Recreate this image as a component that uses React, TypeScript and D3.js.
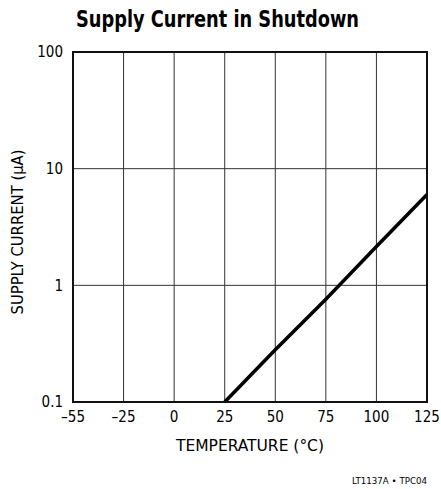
import React, { useEffect, useRef } from "react";
import * as d3 from "d3";

const tempTicks = [-55, -25, 0, 25, 50, 75, 100, 125];
const currentTicks = [0.1, 1, 10, 100];
const tempValues = [25, 50, 75, 100, 125];
const currentValues = [0.1, 0.28, 0.76, 2.15, 6];

const FONT = "'Liberation Sans Narrow', 'DejaVu Sans Condensed', 'Liberation Sans', sans-serif";

const App = () => {
  const svgRef = useRef(null);
  const width = 441;
  const height = 489;
  const margin = { top: 52, right: 14, bottom: 87, left: 73 };
  const innerW = width - margin.left - margin.right;
  const innerH = height - margin.top - margin.bottom;

  useEffect(() => {
    const svg = d3.select(svgRef.current);
    svg.selectAll("*").remove();

    // datasheet axis: -55 to -25 gets the same width as the 25° steps
    const x = d3
      .scaleLinear()
      .domain(tempTicks)
      .range(tempTicks.map((_, i) => (i * innerW) / (tempTicks.length - 1)));

    const y = d3.scaleLog().domain([0.1, 100]).range([innerH, 0]);

    svg
      .append("text")
      .attr("x", 76)
      .attr("y", 27)
      .attr("font-family", FONT)
      .attr("font-weight", "bold")
      .attr("font-size", 23)
      .attr("textLength", 283)
      .attr("lengthAdjust", "spacingAndGlyphs")
      .attr("fill", "#000")
      .text("Supply Current in Shutdown");

    const g = svg
      .append("g")
      .attr("transform", `translate(${margin.left},${margin.top})`);

    // grid
    g.selectAll(".vgrid")
      .data(tempTicks.slice(1, -1))
      .enter()
      .append("line")
      .attr("x1", (d) => x(d))
      .attr("x2", (d) => x(d))
      .attr("y1", 0)
      .attr("y2", innerH)
      .attr("stroke", "#333")
      .attr("stroke-width", 1);

    g.selectAll(".hgrid")
      .data(currentTicks.slice(1, -1))
      .enter()
      .append("line")
      .attr("x1", 0)
      .attr("x2", innerW)
      .attr("y1", (d) => y(d))
      .attr("y2", (d) => y(d))
      .attr("stroke", "#333")
      .attr("stroke-width", 1);

    // curve
    const line = d3
      .line<number>()
      .x((d) => x(d))
      .y((_, i) => y(currentValues[i]));

    g.append("path")
      .datum(tempValues)
      .attr("d", line)
      .attr("fill", "none")
      .attr("stroke", "#000")
      .attr("stroke-width", 3.5);

    // frame
    g.append("rect")
      .attr("width", innerW)
      .attr("height", innerH)
      .attr("fill", "none")
      .attr("stroke", "#111")
      .attr("stroke-width", 2);

    // tick labels
    g.selectAll(".xlab")
      .data(tempTicks)
      .enter()
      .append("text")
      .attr("x", (d) => x(d))
      .attr("y", innerH + 20)
      .attr("text-anchor", "middle")
      .attr("font-family", FONT)
      .attr("font-size", 15)
      .attr("fill", "#000")
      .text((d) => (d < 0 ? "\u2013" + Math.abs(d) : String(d)));

    g.selectAll(".ylab")
      .data(currentTicks)
      .enter()
      .append("text")
      .attr("x", -10)
      .attr("y", (d) => y(d))
      .attr("dy", "0.35em")
      .attr("text-anchor", "end")
      .attr("font-family", FONT)
      .attr("font-size", 15)
      .attr("fill", "#000")
      .text((d) => String(d));

    // axis titles
    g.append("text")
      .attr("x", innerW / 2)
      .attr("y", innerH + 49)
      .attr("text-anchor", "middle")
      .attr("font-family", FONT)
      .attr("font-size", 15.5)
      .attr("textLength", 148)
      .attr("lengthAdjust", "spacingAndGlyphs")
      .attr("fill", "#000")
      .text("TEMPERATURE (°C)");

    g.append("text")
      .attr("transform", "rotate(-90)")
      .attr("x", -innerH / 2 - 5)
      .attr("y", -50)
      .attr("text-anchor", "middle")
      .attr("font-family", FONT)
      .attr("font-size", 15.5)
      .attr("textLength", 165)
      .attr("lengthAdjust", "spacingAndGlyphs")
      .attr("fill", "#000")
      .text("SUPPLY CURRENT (µA)");

    svg
      .append("text")
      .attr("x", margin.left + innerW)
      .attr("y", 484)
      .attr("text-anchor", "end")
      .attr("font-family", FONT)
      .attr("font-size", 9)
      .attr("textLength", 75)
      .attr("lengthAdjust", "spacingAndGlyphs")
      .attr("fill", "#000")
      .text("LT1137A • TPC04");
  }, []);

  return (
    <svg
      ref={svgRef}
      width={width}
      height={height}
      style={{ position: "absolute", left: 0, top: 0, background: "#fff" }}
    ></svg>
  );
};

export default App;
